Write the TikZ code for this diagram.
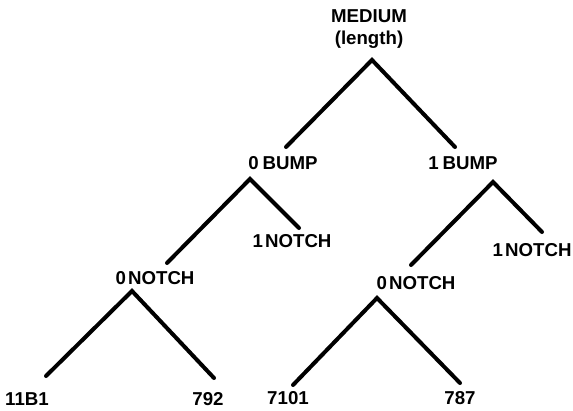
\documentclass[tikz,border=0pt]{standalone}
\usepackage{fontspec}
\setmainfont{Liberation Sans}
\begin{document}
\begin{tikzpicture}[x=0.75pt,y=-0.75pt,
  lbl/.style={font=\bfseries\fontsize{14}{17}\selectfont, inner sep=0pt, align=center},
  edge/.style={line width=3pt, line cap=round}]
\useasboundingbox (0,0) rectangle (573,410);
% labels
\node[lbl] (medium) at (369,29) {MEDIUM\\[-1pt](length)};
\node[lbl] (bump0) at (283,163) {0\hspace{0.2em}BUMP};
\node[lbl] (bump1) at (463,163) {1\hspace{0.2em}BUMP};
\node[lbl] (notch1a) at (292,241) {1\hspace{0.12em}NOTCH};
\node[lbl] (notch0a) at (155,278) {0\hspace{0.12em}NOTCH};
\node[lbl] (notch0b) at (416,283) {0\hspace{0.12em}NOTCH};
\node[lbl] (notch1b) at (532,250) {1\hspace{0.12em}NOTCH};
\node[lbl] (l11B1) at (27,399) {11B1};
\node[lbl] (l792) at (208,399) {792};
\node[lbl] (l7101) at (288,398) {7101};
\node[lbl] (l787) at (460,398) {787};
% connector ends
\coordinate (mApex) at (372,60);
\coordinate (b0In) at (286,147);
\coordinate (b1In) at (455,147);
\coordinate (b0Apex) at (250,179);
\coordinate (n0aIn) at (167,263);
\coordinate (n1aIn) at (299,228);
\coordinate (b1Apex) at (493,182);
\coordinate (n0bIn) at (411,265);
\coordinate (n1bIn) at (542,232);
\coordinate (n0aApex) at (132,291);
\coordinate (c11B1) at (46,376);
\coordinate (c792) at (214,378);
\coordinate (n0bApex) at (377,298);
\coordinate (c7101) at (293,385);
\coordinate (c787) at (460,383);
% connectors
\draw[edge] (b0In) -- (mApex) -- (b1In);
\draw[edge] (n0aIn) -- (b0Apex) -- (n1aIn);
\draw[edge] (n0bIn) -- (b1Apex) -- (n1bIn);
\draw[edge] (c11B1) -- (n0aApex) -- (c792);
\draw[edge] (c7101) -- (n0bApex) -- (c787);
\end{tikzpicture}
\end{document}
